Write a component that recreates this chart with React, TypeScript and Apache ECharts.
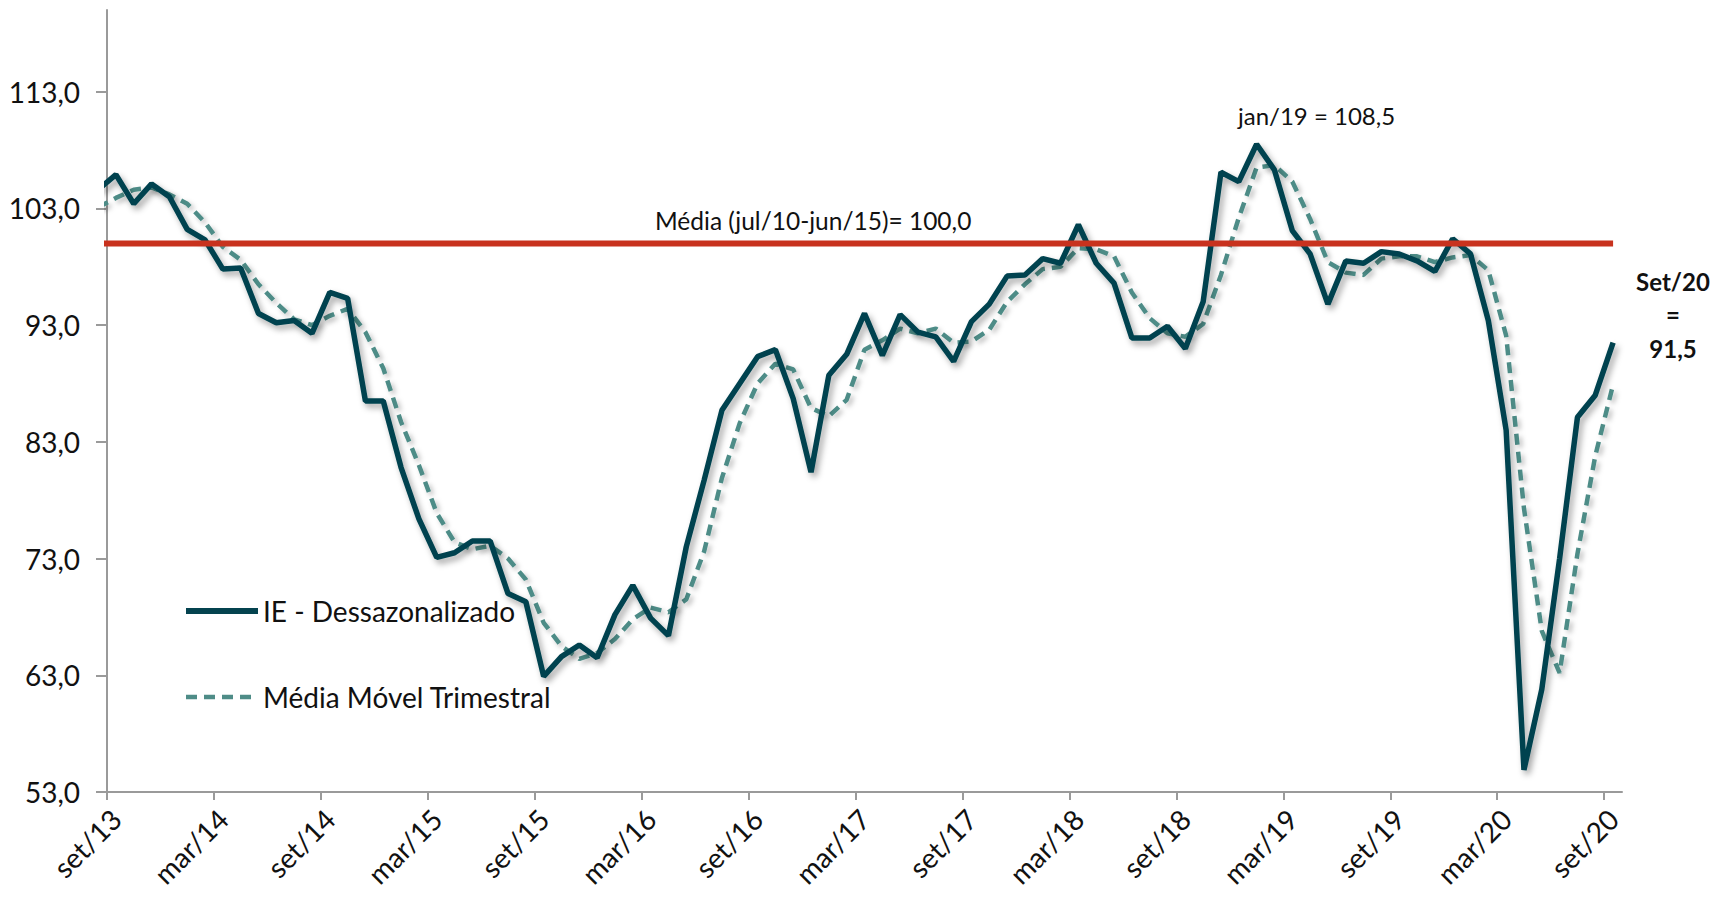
import { useEffect, useRef } from "react";
import * as echarts from "echarts";

// Month names (pt-BR) and the monthly period shown: ago/13 (clipped at the axis) .. set/20
const monthNames = ["jan", "fev", "mar", "abr", "mai", "jun", "jul", "ago", "set", "out", "nov", "dez"];
const firstYear = 2013;
const firstMonthIndex = 7; // ago/13
const categories: string[] = [];
for (let k = 0; k < 86; k++) {
  const m = (firstMonthIndex + k) % 12;
  const y = firstYear + Math.floor((firstMonthIndex + k) / 12);
  categories.push(`${monthNames[m]}/${String(y).slice(2)}`);
}

// IE - Dessazonalizado (ago/13 .. set/20)
const ieValues = [
  104.6, 105.9, 103.4, 105.1, 104.0, 101.2, 100.3, 97.8, 97.9, 94.0, 93.2, 93.4, 92.3,
  95.8, 95.3, 86.5, 86.5, 80.8, 76.4, 73.1, 73.5, 74.5, 74.5, 70.0, 69.3,
  62.9, 64.6, 65.6, 64.5, 68.2, 70.7, 67.9, 66.4, 74.0, 79.7, 85.7, 88.0,
  90.3, 90.9, 86.7, 80.4, 88.7, 90.5, 94.0, 90.4, 93.9, 92.4, 92.0, 89.9,
  93.3, 94.8, 97.2, 97.3, 98.7, 98.3, 101.6, 98.3, 96.6, 91.9, 91.9, 92.9,
  91.0, 95.0, 106.1, 105.3, 108.5, 106.3, 101.1, 99.1, 94.8, 98.5, 98.3, 99.3,
  99.1, 98.5, 97.6, 100.4, 99.1, 93.4, 84.0, 54.9, 61.8, 73.0, 85.1, 87.0,
  91.5,
];

// Média Móvel Trimestral (ago/13 .. set/20)
const mmValues = [
  103.1, 103.9, 104.6, 104.8, 104.2, 103.4, 101.8, 99.7, 98.6, 96.5, 94.9, 93.5, 93.0,
  93.8, 94.4, 92.4, 89.3, 84.7, 81.0, 76.9, 74.4, 73.8, 74.1, 73.0, 71.2,
  67.5, 65.5, 64.4, 64.9, 66.1, 67.8, 68.8, 68.4, 69.5, 73.6, 79.9, 84.6,
  88.0, 89.7, 89.2, 85.9, 85.2, 86.6, 90.9, 91.7, 92.7, 92.3, 92.7, 91.5,
  91.6, 92.6, 95.0, 96.5, 97.8, 98.0, 99.6, 99.5, 98.9, 95.8, 93.6, 92.3,
  92.0, 93.1, 97.3, 102.2, 106.5, 106.7, 105.3, 102.1, 98.4, 97.5, 97.3, 98.7,
  98.9, 98.9, 98.4, 98.8, 99.0, 97.7, 92.1, 77.3, 66.8, 63.2, 73.4, 81.8,
  87.9,
];

// Média (jul/10-jun/15) reference level
const mediaValue = 100;

// Axis ticks
const yTickValues = [53, 63, 73, 83, 93, 103, 113];
const xTickEvery = 6; // a label every 6 months: set/13, mar/14, ... set/20

const seriesIE = "IE - Dessazonalizado";
const seriesMM = "Média Móvel Trimestral";

const IE_COLOR = "#04434f";
const MM_COLOR = "#4e8c87";
const RED = "#c8321e";
const MM_DASH = [11, 7];

const FONT = "Lato, 'Noto Sans', sans-serif";

export default function App() {
  const ref = useRef<HTMLDivElement>(null);

  useEffect(() => {
    document.body.style.margin = "0";
    if (!ref.current) return;
    const chart = echarts.init(ref.current, undefined, { renderer: "svg" });

    // slot k of the category list is centred at x = k - 0.5 (set/13 slot = [0,1])
    const toXY = (arr: number[]) => arr.map((v, k) => [k - 0.5, v]);
    const nMonths = categories.length - 1; // 85 months visible (set/13..set/20)
    const xTicks: number[] = [];
    const xLabelPos: number[] = [];
    for (let b = 0; b < nMonths; b += xTickEvery) {
      xTicks.push(b);
      xLabelPos.push(b + 0.5);
    }

    chart.setOption({
      animation: false,
      backgroundColor: "#ffffff",
      textStyle: { fontFamily: FONT },
      grid: { left: 107, right: 95, top: 10, bottom: 108, containLabel: false },
      legend: {
        data: [
          {
            name: seriesIE,
            itemStyle: { opacity: 0 },
            lineStyle: { color: IE_COLOR, width: 6, type: "solid", shadowBlur: 0 },
          },
          {
            name: seriesMM,
            itemStyle: { opacity: 0 },
            lineStyle: { color: MM_COLOR, width: 4.5, type: MM_DASH, shadowBlur: 0 },
          },
        ],
        orient: "vertical",
        left: 183,
        top: 597,
        padding: 0,
        itemWidth: 72,
        itemHeight: 28,
        itemGap: 58,
        selectedMode: false,
        textStyle: { fontFamily: FONT, fontSize: 28, color: "#111111", lineHeight: 28 },
      },
      xAxis: {
        type: "value",
        min: 0,
        max: nMonths,
        splitLine: { show: false },
        axisLine: { show: true, lineStyle: { color: "#9a9a9a", width: 2 } },
        axisTick: { show: true, length: 8, customValues: xTicks, lineStyle: { color: "#9a9a9a", width: 2 } },
        axisLabel: {
          customValues: xLabelPos,
          rotate: 45,
          margin: 22,
          fontFamily: FONT,
          fontSize: 28,
          color: "#111111",
          formatter: (v: number) => categories[Math.round(v + 0.5)] ?? "",
        },
      },
      yAxis: {
        type: "value",
        min: 53,
        max: 120,
        splitLine: { show: false },
        axisLine: { show: true, lineStyle: { color: "#9a9a9a", width: 2 } },
        axisTick: { show: true, length: 11, customValues: yTickValues, lineStyle: { color: "#9a9a9a", width: 2 } },
        axisLabel: {
          customValues: yTickValues,
          margin: 27,
          fontFamily: FONT,
          fontSize: 28,
          color: "#111111",
          formatter: (v: number) => v.toFixed(1).replace(".", ","),
        },
      },
      series: [
        {
          name: seriesMM,
          type: "line",
          data: toXY(mmValues),
          symbol: "none",
          clip: true,
          z: 2,
          itemStyle: { color: MM_COLOR },
          lineStyle: {
            color: MM_COLOR,
            width: 4.5,
            type: MM_DASH,
            shadowColor: "rgba(0,0,0,0.25)",
            shadowBlur: 5,
            shadowOffsetX: 3,
            shadowOffsetY: 3,
          },
        },
        {
          name: seriesIE,
          type: "line",
          data: toXY(ieValues),
          symbol: "none",
          clip: true,
          z: 3,
          itemStyle: { color: IE_COLOR },
          lineStyle: {
            color: IE_COLOR,
            width: 5.5,
            shadowColor: "rgba(0,0,0,0.35)",
            shadowBlur: 6,
            shadowOffsetX: 3,
            shadowOffsetY: 4,
          },
        },
        {
          name: "Média",
          type: "line",
          data: toXY(ieValues.map(() => mediaValue)),
          symbol: "none",
          clip: true,
          z: 4,
          itemStyle: { color: RED },
          lineStyle: { color: RED, width: 6 },
        },
      ],
      graphic: [
        {
          type: "text",
          x: 655,
          y: 220,
          style: {
            text: "Média (jul/10-jun/15)= 100,0",
            fontFamily: FONT,
            fontSize: 24.5,
            fill: "#111111",
            align: "left",
            verticalAlign: "middle",
          },
        },
        {
          type: "text",
          x: 1238,
          y: 115,
          style: {
            text: "jan/19 = 108,5",
            fontFamily: FONT,
            fontSize: 24,
            fill: "#111111",
            align: "left",
            verticalAlign: "middle",
          },
        },
        {
          type: "text",
          x: 1673,
          y: 281,
          style: { text: "Set/20", fontFamily: FONT, fontSize: 24, fontWeight: "bold", fill: "#111111", align: "center", verticalAlign: "middle" },
        },
        {
          type: "text",
          x: 1673,
          y: 314,
          style: { text: "=", fontFamily: FONT, fontSize: 24, fontWeight: "bold", fill: "#111111", align: "center", verticalAlign: "middle" },
        },
        {
          type: "text",
          x: 1673,
          y: 348,
          style: { text: "91,5", fontFamily: FONT, fontSize: 24, fontWeight: "bold", fill: "#111111", align: "center", verticalAlign: "middle" },
        },
      ],
    });

    return () => {
      chart.dispose();
    };
  }, []);

  return <div ref={ref} style={{ width: 1717, height: 900 }} />;
}
